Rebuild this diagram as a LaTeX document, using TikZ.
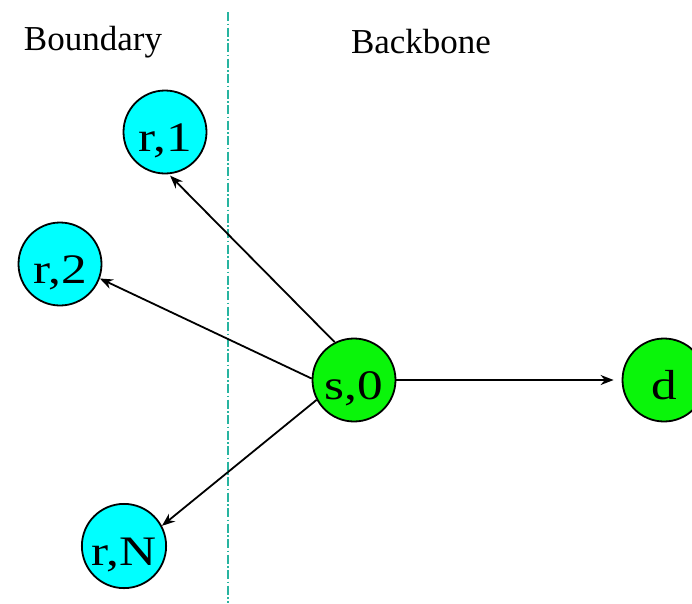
\documentclass[tikz,border=0pt]{standalone}
\usepackage{fontspec}
\setmainfont{Liberation Serif}
\newfontfamily\widefont[FakeStretch=1.22]{Liberation Serif}
\usetikzlibrary{arrows.meta}
\definecolor{divider}{RGB}{40,180,160}
\definecolor{relaycol}{RGB}{0,255,255}
\definecolor{srccol}{RGB}{10,245,10}
\tikzset{
  nodecirc/.style={circle, draw=black, line width=1.8pt, minimum size=83pt, inner sep=0pt, text height=46pt, text depth=8pt, font=\widefont\fontsize{42}{44}\selectfont},
  relay/.style={nodecirc, fill=relaycol},
  src/.style={nodecirc, fill=srccol},
  link/.style={draw=black, line width=1.8pt, -{Stealth[length=13pt,width=10pt]}},
  region/.style={font=\fontsize{35}{38}\selectfont}
}
\begin{document}
\begin{tikzpicture}[x=1pt,y=-1pt]
\useasboundingbox (0,0) rectangle (692,603);
\fill[white] (0,0) rectangle (692,603);
\draw[divider, line width=1.6pt, dash pattern=on 9pt off 2.5pt on 1.5pt off 2.5pt] (228,12) coordinate (dtop) -- (228,603) coordinate (dbot);
\node[region] (lb) at (93,42) {Boundary};
\node[region] (lbb) at (421,42) {Backbone};
\node[relay] (r1) at (165,132) {r,1};
\node[relay] (r2) at (60,264) {r,2};
\node[src] (s) at (354,380) {s,0};
\node[src] (d) at (664,380) {d};
\node[relay] (rN) at (124,546) {r,N};
\draw[link, shorten >=2pt] (s.117) -- (r1.275);
\draw[link] (s.178) -- (r2.-20);
\draw[link] (s.208) -- (rN.28);
\draw[link, shorten >=8pt] (s) -- (d);
\end{tikzpicture}
\end{document}
